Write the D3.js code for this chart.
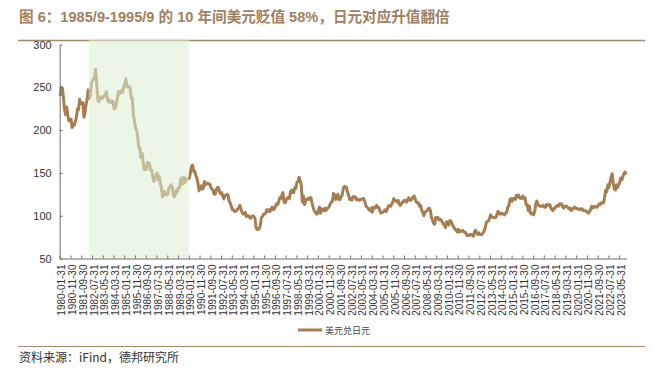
<!DOCTYPE html>
<html><head><meta charset="utf-8">
<script src="https://cdn.jsdelivr.net/npm/d3@7"></script>
<style>
html,body{margin:0;padding:0;background:#fff;}
svg{display:block;}
</style></head>
<body>
<svg id="c" width="655" height="370"></svg>
<script>
// ---- data ----
const title = "图 6：1985/9-1995/9 的 10 年间美元贬值 58%，日元对应升值翻倍";
const source = "资料来源：iFind，德邦研究所";
const seriesName = "美元兑日元";
const firstMonth = "1980-01";
// monthly USD/JPY, 1980-01 .. 2023-11
const usdjpy = [
240,250,249,238,224,218,227,218,211,212,213,203, // 1980
205,206,210,215,225,224,236,231,231,232,215,220, // 1981
230,236,247,237,240,255,258,259,264,271,252,235, // 1982
233,237,239,237,239,240,242,245,235,233,235,232, // 1983
234,233,225,225,230,237,245,242,245,246,244,251, // 1984
254,260,251,250,251,249,237,238,217,211,202,200, // 1985
192,180,179,168,173,164,154,155,154,162,162,160, // 1986
153,153,146,140,144,147,150,142,146,138,133,122, // 1987
128,128,124,125,125,133,133,136,134,125,122,125, // 1988
130,128,133,133,143,144,137,145,139,143,143,143, // 1989
144,150,158,159,152,152,147,144,138,129,133,135, // 1990
131,132,140,136,138,138,137,137,133,131,130,125, // 1991
125,130,133,133,128,126,127,123,120,123,124,125, // 1992
124,117,115,111,107,107,105,105,106,108,109,112, // 1993
108,104,102,102,104, 99,100,100, 98, 97, 99,100, // 1994
 99, 97, 86, 84, 84, 85, 89, 98, 99,102,102,103, // 1995
107,105,107,105,108,110,107,108,111,114,113,116, // 1996
121,120,124,127,116,115,118,121,121,120,128,130, // 1997
127,127,133,132,139,140,145,141,136,116,123,113, // 1998
116,119,120,119,121,121,115,110,106,104,102,102, // 1999
107,110,103,108,107,106,109,106,108,109,111,114, // 2000
116,117,126,124,119,124,125,119,119,122,124,131, // 2001
134,134,133,128,124,119,120,118,122,122,122,119, // 2002
120,118,118,119,119,120,120,117,112,110,109,107, // 2003
106,109,104,110,110,109,112,110,110,106,103,104, // 2004
104,105,107,105,108,111,112,111,113,116,120,118, // 2005
117,116,118,114,112,114,115,117,118,117,116,119, // 2006
121,118,118,120,122,123,119,116,115,115,111,112, // 2007
106,104,100,104,105,106,108,109,106, 98, 95, 91, // 2008
 90, 98, 98, 98, 95, 96, 95, 93, 90, 90, 86, 93, // 2009
 90, 89, 94, 94, 91, 88, 86, 84, 83, 81, 84, 81, // 2010
 82, 82, 83, 81, 81, 80, 77, 77, 77, 78, 78, 77, // 2011
 76, 81, 83, 80, 78, 80, 78, 78, 78, 80, 82, 86, // 2012
 92, 93, 94, 97,101, 99, 98, 98, 98, 98,102,105, // 2013
102,102,103,102,102,101,103,104,110,112,119,120, // 2014
117,120,120,119,124,122,124,121,120,121,123,120, // 2015
121,113,113,106,111,103,102,103,101,105,114,117, // 2016
113,112,111,111,111,112,110,110,113,113,112,113, // 2017
109,107,106,109,109,111,112,111,114,113,114,110, // 2018
109,111,111,111,109,108,109,106,108,108,110,109, // 2019
108,108,108,107,108,108,106,106,106,105,104,103, // 2020
105,107,111,109,110,111,110,110,112,114,113,115, // 2021
115,115,122,130,128,136,133,139,145,149,138,131, // 2022
130,136,133,136,139,144,142,146,149,151,148      // 2023
];
const yTicks = [50,100,150,200,250,300];
const tickLabels = [
"1980-01-31","1980-11-30","1981-09-30","1982-07-31","1983-05-31","1984-03-31","1985-01-31","1985-11-30",
"1986-09-30","1987-07-31","1988-05-31","1989-03-31","1990-01-31","1990-11-30","1991-09-30","1992-07-31",
"1993-05-31","1994-03-31","1995-01-31","1995-11-30","1996-09-30","1997-07-31","1998-05-31","1999-03-31",
"2000-01-31","2000-11-30","2001-09-30","2002-07-31","2003-05-31","2004-03-31","2005-01-31","2005-11-30",
"2006-09-30","2007-07-31","2008-05-31","2009-03-31","2010-01-31","2010-11-30","2011-09-30","2012-07-31",
"2013-05-31","2014-03-31","2015-01-31","2015-11-30","2016-09-30","2017-07-31","2018-05-31","2019-03-31",
"2020-01-31","2020-11-30","2021-09-30","2022-07-31","2023-05-31"
];
const shadeRange = ["1982-04-30","1989-12-31"];

// categories: month-end dates
const fmt = d3.timeFormat("%Y-%m-%d");
const start = d3.timeParse("%Y-%m")(firstMonth);
const categories = usdjpy.map((v,i)=> fmt(d3.timeDay.offset(d3.timeMonth.offset(start, i+1), -1)));

// ---- layout ----
const svg = d3.select("#c");
const X0 = 59.7, X1 = 626.7, YT = 44.5, YB = 258.5;
const brown = "#a67d51";

const x = d3.scaleBand().domain(categories).range([X0, X1]).paddingInner(0).paddingOuter(0);
const xi = d3.scaleLinear().domain([0, categories.length]).range([X0, X1]);
const y = d3.scaleLinear().domain([50,300]).range([YB, YT]);

// title
svg.append("text").attr("x",19).attr("y",22)
  .attr("font-family","'Liberation Sans','Noto Sans CJK SC',sans-serif")
  .attr("font-weight","bold").attr("font-size",14.6).attr("fill","#a08060")
  .text(title);
svg.append("line").attr("x1",18).attr("x2",645).attr("y1",40.5).attr("y2",40.5)
  .attr("stroke","#a8896a").attr("stroke-width",1.6);

// line
const line = d3.line().x((d,i)=>x(categories[i])+x.bandwidth()/2).y(d=>y(d)).curve(d3.curveLinear);
svg.append("path").datum(usdjpy).attr("d",line).attr("fill","none")
  .attr("stroke",brown).attr("stroke-width",3).attr("stroke-linejoin","round");

// shaded band (semi-transparent overlay)
svg.append("rect")
  .attr("x", x(shadeRange[0]))
  .attr("width", x(shadeRange[1]) + x.bandwidth() - x(shadeRange[0]))
  .attr("y", YT - 6).attr("height", YB - YT + 6)
  .attr("fill","rgb(220,238,212)").attr("fill-opacity",0.55);

// y axis
const ya = svg.append("g").attr("transform",`translate(${X0},0)`)
  .call(d3.axisLeft(y).tickValues(yTicks).tickSizeInner(-3).tickSizeOuter(0).tickPadding(8));
ya.select(".domain").attr("stroke","#6f6f6f");
ya.selectAll(".tick line").attr("stroke","#6f6f6f");
ya.selectAll("text").attr("font-family","'Liberation Sans',Arial,sans-serif").attr("font-size",11).attr("fill","#333");

// x axis (ticks every 10 categories at boundaries)
const xa = svg.append("g").attr("transform",`translate(0,${YB})`)
  .call(d3.axisBottom(xi).tickValues(d3.range(0, categories.length+1, 10)).tickSizeInner(-3).tickSizeOuter(0).tickFormat(""));
xa.select(".domain").attr("stroke","#6f6f6f");
xa.selectAll(".tick line").attr("stroke","#6f6f6f");

svg.append("g").selectAll("text").data(tickLabels).join("text")
  .attr("transform", d => `translate(${x(d)+x.bandwidth()/2+1.5},${YB+6}) rotate(-90)`)
  .attr("text-anchor","end").attr("dy","0.35em")
  .attr("font-family","'Liberation Sans',Arial,sans-serif").attr("font-size",10).attr("fill","#333")
  .text(d=>d);

// legend
svg.append("line").attr("x1",298).attr("x2",322).attr("y1",330).attr("y2",330)
  .attr("stroke",brown).attr("stroke-width",3);
svg.append("text").attr("x",325).attr("y",333.5)
  .attr("font-family","'Noto Sans CJK SC',sans-serif").attr("font-size",9).attr("fill","#444")
  .text(seriesName);

// bottom rule + source
svg.append("line").attr("x1",18).attr("x2",645).attr("y1",346.5).attr("y2",346.5)
  .attr("stroke","#a8896a").attr("stroke-width",1.2);
svg.append("text").attr("x",19).attr("y",362)
  .attr("font-family","'Noto Sans CJK SC',sans-serif").attr("font-size",12).attr("fill","#333")
  .text(source);
</script>
</body></html>
